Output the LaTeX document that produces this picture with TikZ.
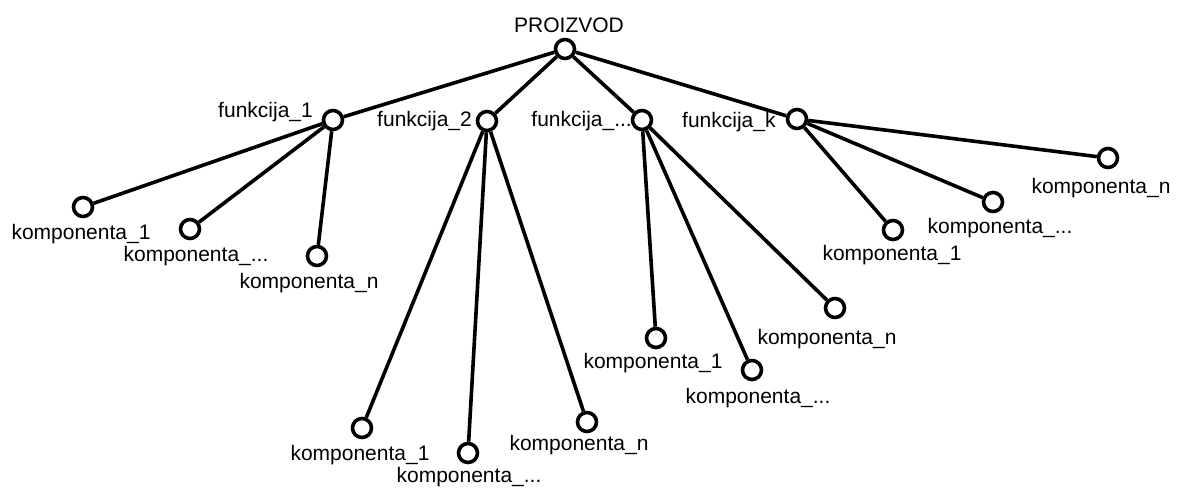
\documentclass[tikz,border=0pt]{standalone}
\usepackage{fontspec}
\setmainfont{Liberation Sans}
\begin{document}
\begin{tikzpicture}[x=1pt,y=-1pt,
  dot/.style={circle,draw=black,line width=3.6pt,minimum size=19pt,inner sep=0pt,fill=white},
  lbl/.style={inner sep=0pt,font=\fontsize{21}{25}\selectfont},
  edge/.style={line width=3.6pt,black}]
\useasboundingbox (0,0) rectangle (1181,488);
% nodes
\node[dot] (p) at (565,49) {};
\node[dot] (f1) at (333,120) {};
\node[dot] (f2) at (487,121) {};
\node[dot] (f3) at (642,120) {};
\node[dot] (fk) at (797,119) {};
% funkcija_1 children
\node[dot] (a1) at (83,207) {};
\node[dot] (a2) at (190,229) {};
\node[dot] (a3) at (317,256) {};
% funkcija_2 children
\node[dot] (b1) at (362,428) {};
\node[dot] (b2) at (468,453) {};
\node[dot] (b3) at (587,422) {};
% funkcija_... children
\node[dot] (c1) at (656,338) {};
\node[dot] (c2) at (752,370) {};
\node[dot] (c3) at (835,308) {};
% funkcija_k children
\node[dot] (d1) at (893,230) {};
\node[dot] (d2) at (993,202) {};
\node[dot] (d3) at (1108,158) {};
% labels
\node[lbl,anchor=base] (tp) at (569,32) {PROIZVOD};
\node[lbl,anchor=base east] (tf1) at (313,117) {funkcija\_1};
\node[lbl,anchor=base east] (tf2) at (472,126) {funkcija\_2};
\node[lbl,anchor=base east] (tf3) at (632,126) {funkcija\_...};
\node[lbl,anchor=base west] (tfk) at (682,127) {funkcija\_k};
\node[lbl] (ta1) at (81,234) {komponenta\_1};
\node[lbl] (ta2) at (196,256) {komponenta\_...};
\node[lbl] (ta3) at (309,283) {komponenta\_n};
\node[lbl] (tb1) at (360,455) {komponenta\_1};
\node[lbl] (tb2) at (469,477) {komponenta\_...};
\node[lbl] (tb3) at (579,445) {komponenta\_n};
\node[lbl] (tc1) at (653,363) {komponenta\_1};
\node[lbl] (tc2) at (758,398) {komponenta\_...};
\node[lbl] (tc3) at (827,339) {komponenta\_n};
\node[lbl] (td1) at (892,255) {komponenta\_1};
\node[lbl] (td2) at (1000,228) {komponenta\_...};
\node[lbl] (td3) at (1101,188) {komponenta\_n};
% edges
\draw[edge] (p) -- (f1);
\draw[edge] (p) -- (f2);
\draw[edge] (p) -- (f3);
\draw[edge] (p) -- (fk);
\draw[edge] (f1) -- (a1);
\draw[edge] (f1) -- (a2);
\draw[edge] (f1) -- (a3);
\draw[edge] (f2) -- (b1);
\draw[edge] (f2) -- (b2);
\draw[edge] (f2) -- (b3);
\draw[edge] (f3) -- (c1);
\draw[edge] (f3) -- (c2);
\draw[edge] (f3) -- (c3);
\draw[edge] (fk) -- (d1);
\draw[edge] (fk) -- (d2);
\draw[edge] (fk) -- (d3);
\end{tikzpicture}
\end{document}
